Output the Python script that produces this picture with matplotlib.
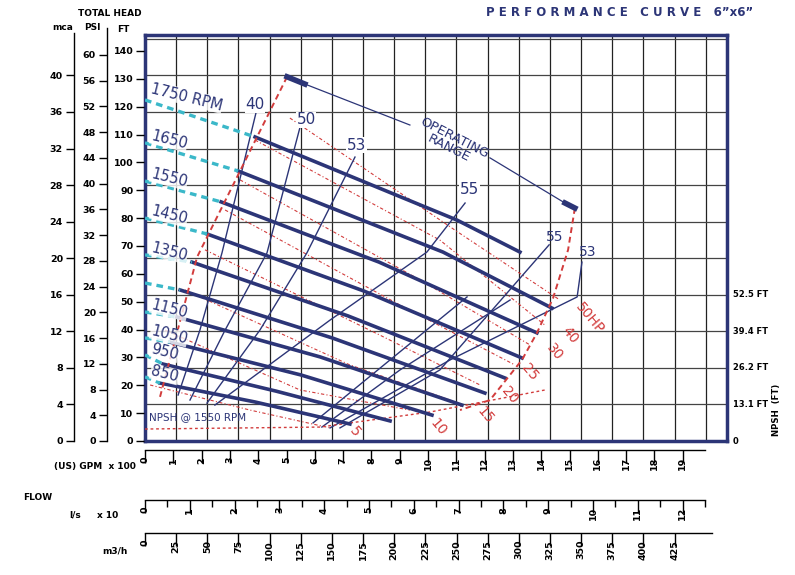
import numpy as np
import matplotlib
matplotlib.use("Agg")
import matplotlib.pyplot as plt

# Datos: caudal en GPM x 100, altura en FT
rpm_labels = ["1750 RPM", "1650", "1550", "1450", "1350", "1250", "1150", "1050", "950", "850"]
rpm_show = [True, True, True, True, True, False, True, True, True, True]
head_q = [[3.89, 11.02, 13.25], [3.29, 10.53, 14.38], [2.69, 8.27, 13.85], [2.19, 7.74, 13.32],
          [1.66, 7.17, 12.72], [1.24, 6.61, 12.01], [1.13, 6.18, 11.20], [0.88, 5.51, 10.14],
          [0.64, 4.63, 8.66], [0.53, 3.89, 7.24]]
head_h = [[109.1, 79.3, 67.8], [96.9, 67.8, 47.7], [85.8, 64.2, 38.8], [74.3, 53.8, 29.8],
          [64.2, 44.9, 22.6], [54.2, 37.0, 17.2], [44.5, 30.2, 12.9], [35.5, 23.7, 9.3],
          [27.6, 17.9, 7.2], [20.8, 14.0, 6.1]]
shutoff_h = [122.4, 107.0, 93.3, 80.0, 66.8, 56.7, 46.3, 37.0, 30.9, 23.0]

# Eficiencia (%)
eff_labels = ["40", "50", "53", "55"]
eff_left_q = [[1.17, 1.94, 2.72, 3.92], [1.59, 2.83, 4.31, 5.48], [2.19, 4.06, 5.72, 7.42], [2.47, 6.54, 9.96, 11.31]]
eff_left_h = [[16.5, 39.8, 67.5, 117.7], [14.7, 39.8, 67.5, 112.7], [13.6, 39.8, 67.5, 101.9], [12.9, 43.4, 67.8, 85.4]]
eff_lab_q = [3.89, 5.69, 7.46, 11.48]
eff_lab_h = [120.6, 115.2, 106.2, 90.1]
eff_right_q = [[5.94, 11.38], [6.25, 9.01, 12.90], [6.54, 10.78, 15.27, 15.44], [6.89, 10.42, 14.28]]
eff_right_h = [[6.5, 51.7], [5.0, 25.5, 50.6], [4.7, 29.1, 51.7, 64.2], [4.7, 25.5, 70.4]]
eff_rlab = [("55", 14.49, 73.2), ("53", 15.65, 67.8)]

# Potencia (HP)
hp_labels = ["50HP", "40", "30", "25", "20", "15", "10", "5"]
hp_q = [[5.12, 10.95, 14.66], [3.89, 10.42, 14.13], [3.36, 9.72, 13.60], [2.83, 9.01, 13.07],
        [2.12, 8.30, 11.84], [1.41, 7.24, 10.78], [0.71, 5.48, 9.36], [0.18, 3.71, 6.54]]
hp_h = [[115.9, 75.7, 50.6], [108.0, 72.1, 41.6], [93.7, 57.8, 34.5], [82.9, 48.8, 27.3],
        [68.6, 38.0, 20.1], [54.2, 27.3, 14.7], [39.8, 18.3, 11.1], [20.1, 11.1, 4.7]]
hp_lab_q = [15.72, 15.02, 14.49, 13.60, 12.90, 12.01, 10.35, 7.42]
hp_lab_h = [44.1, 38.0, 31.9, 24.8, 16.5, 9.3, 5.0, 3.2]

# Rango de operacion y NPSH
op_left_q = [5.02, 1.84, 0.53]
op_left_h = [130.7, 66.0, 15.8]
op_right_q = [15.19, 14.95, 14.42, 13.85, 13.32, 12.19, 11.13]
op_right_h = [83.6, 68.6, 51.3, 38.8, 29.1, 14.7, 11.1]
npsh_q = [0, 6.18, 10.07, 14.13]
npsh_h = [4.3, 5.0, 10.4, 18.3]
npsh_ticks = [0, 13.1, 26.2, 39.4, 52.5]

NAVY = "#2c3577"
RED = "#d23c3c"
CYAN = "#3bb8c9"
W, H = 795, 575
X0, X1, Y0, Y1 = 145, 727, 441, 35
PXQ = 28.3  # px por 100 GPM

fig = plt.figure(figsize=(W / 100, H / 100), dpi=100)
ax = fig.add_axes([X0 / W, 1 - Y0 / H, (X1 - X0) / W, (Y0 - Y1) / H])
xmax = (X1 - X0) / PXQ
ymax = 145.7
ax.set_xlim(0, xmax)
ax.set_ylim(0, ymax)
ax.set_xticks([]); ax.set_yticks([])
for s in ax.spines.values():
    s.set_color(NAVY); s.set_linewidth(2.5)

# rejilla: 25 m3/h y 4 m
for gx in np.arange(1.1007, xmax, 1.1007):
    ax.axvline(gx, color="#222222", lw=0.9, zorder=1)
for gy in np.arange(13.12, ymax, 13.12):
    ax.axhline(gy, color="#444444", lw=0.9, zorder=1)

# curvas de potencia
for q, h in zip(hp_q, hp_h):
    ax.plot(q, h, color=RED, lw=0.8, ls=(0, (3, 2, 1, 2)), zorder=2)
for lab, q, h in zip(hp_labels, hp_lab_q, hp_lab_h):
    ax.text(q, h, lab, color=RED, fontsize=10, rotation=-50, ha="center", va="center", zorder=5)

# eficiencia
for q, h in zip(eff_left_q, eff_left_h):
    ax.plot(q, h, color=NAVY, lw=1.0, zorder=3)
for q, h in zip(eff_right_q, eff_right_h):
    ax.plot(q, h, color=NAVY, lw=1.0, zorder=3)
for lab, q, h in zip(eff_labels, eff_lab_q, eff_lab_h):
    ax.text(q, h, lab, color=NAVY, fontsize=11, ha="center", va="center", zorder=5,
            bbox=dict(fc="white", ec="none", pad=0.5))
for lab, q, h in eff_rlab:
    ax.text(q, h, lab, color=NAVY, fontsize=10, ha="center", va="center", zorder=5)

# curvas de altura
for q, h, h0, lab, show in zip(head_q, head_h, shutoff_h, rpm_labels, rpm_show):
    ax.plot(q, h, color=NAVY, lw=2.6, zorder=4)
    ax.plot([0, q[0]], [h0, h[0]], color=CYAN, lw=2.4, ls=(0, (2, 1.5)), zorder=4)
    if show:
        ax.text(0.15, h0 + 1, lab, color=NAVY, fontsize=10.5, rotation=-14, ha="left",
                va="center", zorder=5, bbox=dict(fc="white", ec="none", pad=0.3, alpha=0.8))

# rango de operacion
ax.plot(op_left_q, op_left_h, color=RED, lw=1.4, ls=(0, (3, 2)), zorder=4)
ax.plot(op_right_q, op_right_h, color=RED, lw=1.4, ls=(0, (3, 2)), zorder=4)
ax.plot([op_left_q[0], 5.65], [op_left_h[0], 128.1], color=NAVY, lw=4, zorder=5)
ax.plot([5.65, 9.36], [128.1, 113.4], color=NAVY, lw=0.9, zorder=5)
ax.plot([12.19, 14.84], [101.6, 85.4], color=NAVY, lw=0.9, zorder=5)
ax.plot([14.84, op_right_q[0]], [85.4, op_right_h[0]], color=NAVY, lw=4, zorder=5)
ax.text(10.85, 107, "OPERATING\nRANGE", color=NAVY, fontsize=9.5, rotation=-27,
        ha="center", va="center", linespacing=0.9, zorder=5)

# NPSH
ax.plot(npsh_q, npsh_h, color=RED, lw=1.0, ls=(0, (2, 2)), zorder=3)
ax.text(0.15, 7.5, "NPSH @ 1550 RPM", color=NAVY, fontsize=7.5, zorder=5)
for v in npsh_ticks:
    ax.text(1.01, v / ymax, "0" if v == 0 else f"{v} FT", transform=ax.transAxes,
            fontsize=6, fontweight="bold", va="center", ha="left")
fig.text(777 / W, 1 - 410 / H, "NPSH  (FT)", rotation=90, fontsize=6.2, fontweight="bold",
         ha="center", va="center")

# escalas de altura a la izquierda
def escala_y(px, top, ticks_ft, labels, direction, show_spine):
    a = fig.add_axes([px / W, 1 - Y0 / H, 0.0001, (Y0 - top) / H])
    a.set_ylim(0, (Y0 - top) / 2.786)
    a.set_xticks([])
    for k in ["top", "bottom", "right"]:
        a.spines[k].set_visible(False)
    a.spines["left"].set_visible(show_spine)
    a.spines["left"].set_linewidth(1.0)
    a.set_yticks(ticks_ft)
    a.set_yticklabels(labels, fontsize=6.8, fontweight="bold")
    a.tick_params(axis="y", direction=direction, length=6, width=1, pad=2)
    return a

ft_t = list(range(0, 141, 10))
escala_y(136, 35, ft_t, [str(t) for t in ft_t], "in", False)
psi_t = list(range(0, 61, 4))
escala_y(107, 28, [p * 2.31 for p in psi_t], [str(p) for p in psi_t], "out", True)
m_t = list(range(0, 41, 4))
escala_y(74, 33, [m / 0.3048 for m in m_t], [str(m) for m in m_t], "out", True)
fig.text(110 / W, 1 - 13 / H, "TOTAL HEAD", fontsize=6.5, fontweight="bold", ha="center", va="center")
fig.text(63 / W, 1 - 27 / H, "mca", fontsize=6.5, fontweight="bold", ha="center", va="center")
fig.text(92 / W, 1 - 27 / H, "PSI", fontsize=6.5, fontweight="bold", ha="center", va="center")
fig.text(123 / W, 1 - 30 / H, "FT", fontsize=6.5, fontweight="bold", ha="center", va="center")

# escalas de caudal abajo
def escala_x(py, right, major, labels, minor=None):
    a = fig.add_axes([X0 / W, 1 - py / H, (right - X0) / W, 0.0001])
    a.set_xlim(0, (right - X0) / PXQ)
    a.set_yticks([])
    for k in ["left", "bottom", "right"]:
        a.spines[k].set_visible(False)
    a.spines["top"].set_linewidth(1.0)
    a.xaxis.set_ticks_position("top")
    a.set_xticks(major)
    a.set_xticklabels(labels, fontsize=6.8, rotation=90, fontweight="bold")
    a.tick_params(axis="x", direction="in", length=9, width=1, labeltop=False, labelbottom=True, pad=5)
    if minor is not None:
        a.set_xticks(minor, minor=True)
        a.tick_params(axis="x", which="minor", direction="in", length=5, width=1)

gpm_t = list(range(0, 20))
escala_x(450, 705, gpm_t, [str(g) for g in gpm_t])
ls_t = list(range(0, 13))
escala_x(500, 705, [v * 10 * 15.85 / 100 for v in ls_t], [str(v) for v in ls_t],
         minor=[(v + 0.5) * 10 * 15.85 / 100 for v in ls_t])
m3_t = list(range(0, 426, 25))
escala_x(533, 712, [v * 4.403 / 100 for v in m3_t], [str(v) for v in m3_t])
fig.text(95 / W, 1 - 467 / H, "(US) GPM  x 100", fontsize=6.5, fontweight="bold", ha="center", va="center")
fig.text(38 / W, 1 - 497 / H, "FLOW", fontsize=6.5, fontweight="bold", ha="center", va="center")
fig.text(75 / W, 1 - 515 / H, "l/s", fontsize=6.5, fontweight="bold", ha="center", va="center")
fig.text(108 / W, 1 - 515 / H, "x 10", fontsize=6.5, fontweight="bold", ha="center", va="center")
fig.text(115 / W, 1 - 551 / H, "m3/h", fontsize=6.5, fontweight="bold", ha="center", va="center")

fig.text(620 / W, 1 - 12 / H, "P E R F O R M A N C E   C U R V E   6\u201dx6\u201d", color=NAVY,
         fontsize=8.5, fontweight="bold", ha="center", va="center")

fig.savefig("out.png", dpi=100)
